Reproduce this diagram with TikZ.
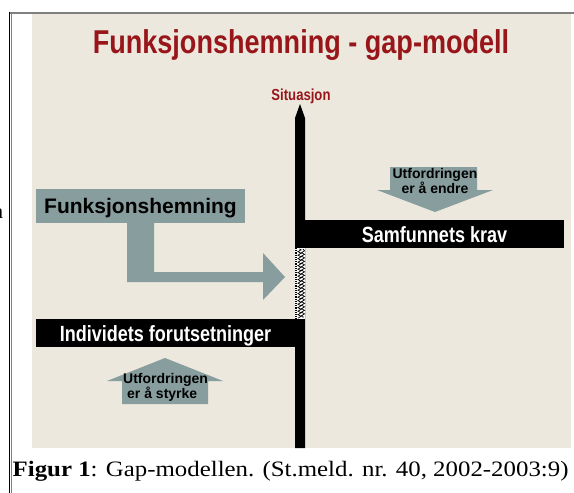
\documentclass[tikz,border=0pt]{standalone}
\usepackage{fontspec}
\setmainfont{Liberation Serif}
\newfontfamily\arial{Liberation Sans}
\newfontfamily\arialnarrow[FakeStretch=0.82]{Liberation Sans}
\newfontfamily\timeswide[FakeStretch=1.13]{Liberation Serif}
\usetikzlibrary{
    decorations.pathmorphing,
    positioning
}
\definecolor{bakgrunn}{RGB}{236,232,222}
\definecolor{tittelrod}{RGB}{152,22,26}
\definecolor{blagra}{RGB}{136,157,157}
\tikzset{svartboks/.style={inner sep=0pt, fill=black, text=white, minimum width=259pt, minimum height=28pt, text height=16pt, text depth=0pt, font=\arialnarrow\bfseries\fontsize{22}{26}\selectfont}}
\tikzset{pilboks/.style={inner sep=0pt, font=\arial\bfseries\fontsize{14}{15}\selectfont}}
\tikzset{gapstrek/.style={decorate, decoration={zigzag, amplitude=1.6pt, segment length=3.5pt}, line width=0.7pt}}

\begin{document}
\begin{tikzpicture}[x=1pt, y=-1pt]
                        \useasboundingbox (0,0) rectangle (574,493);
                        \fill[bakgrunn] (32,14) rectangle (571,448);
                        \draw[line width=2pt, gray]
                        (9,12.5) -- (574,12.5);
                        \draw[line width=1pt]
                        (9.5,11.5) -- (9.5,493);
                        \draw[line width=1pt, gray]
                        (11.5,13.5) -- (11.5,493);
                        \node[anchor=base east, inner sep=0pt, font=\fontsize{21}{24}\selectfont] (rest) at (3.5,218) {a};
                        \node[anchor=base, text=tittelrod, font=\arialnarrow\bfseries\fontsize{33}{38}\selectfont] (tittel) at (301,53) {Funksjonshemning - gap-modell};
                        \node[anchor=base, text=tittelrod, font=\arialnarrow\bfseries\fontsize{16}{18}\selectfont] (sit) at (301,100) {Situasjon};
                        % situasjonsaksen med gap
                        \fill (295,118) -- (300,104) -- (305,118) -- (305,448) -- (295,448) -- cycle;
                        \fill[white] (295,248) rectangle (305,319);
                        \draw[densely dotted, line width=1.2pt]
                        (296,248) -- (296,319);
                        \draw[gapstrek]
                        (299.5,249) -- (299.5,318)
                        (303,249) -- (303,318);
                        \node[svartboks] (krav) at (434.5,234) {Samfunnets krav};
                        \node[svartboks] (indiv) at (165.5,333) {Individets forutsetninger};
                        \node[inner sep=0pt, fill=blagra, minimum width=209pt, minimum height=34pt, text height=15pt, text depth=0pt, font=\arial\bfseries\fontsize{21}{24}\selectfont] (fh) at (140.5,206) {Funksjonshemning};
                        \fill[blagra]
                        (127,223) -- (154,223) -- (154,272) -- (263,272) -- (263,253) -- (285,277) -- (263,300) -- (263,282) -- (127,282) -- cycle;
                        % utfordringene
                        \fill[blagra]
                        (390,167) -- (477,167) -- (477,190) -- (493,190) -- (435,212) -- (377,190) -- (390,190) -- cycle;
                        \node[pilboks, align=center] (endre) at (435,180.5) {Utfordringen\\er å endre};
                        \fill[blagra]
                        (165,358) -- (223,381) -- (208,381) -- (208,404) -- (122,404) -- (122,381) -- (107,381) -- cycle;
                        \node[pilboks, align=left, anchor=west] (styrke) at (123,387) {Utfordringen\\\hspace{4pt}er å styrke};
                        \node[anchor=base west, inner sep=0pt, font=\timeswide\fontsize{22}{25}\selectfont] (figur) at (12.5,476) {\textbf{Figur 1}: Gap-modellen. (St.meld. nr. 40, 2002-2003:9)};
                    \end{tikzpicture}
\end{document}
